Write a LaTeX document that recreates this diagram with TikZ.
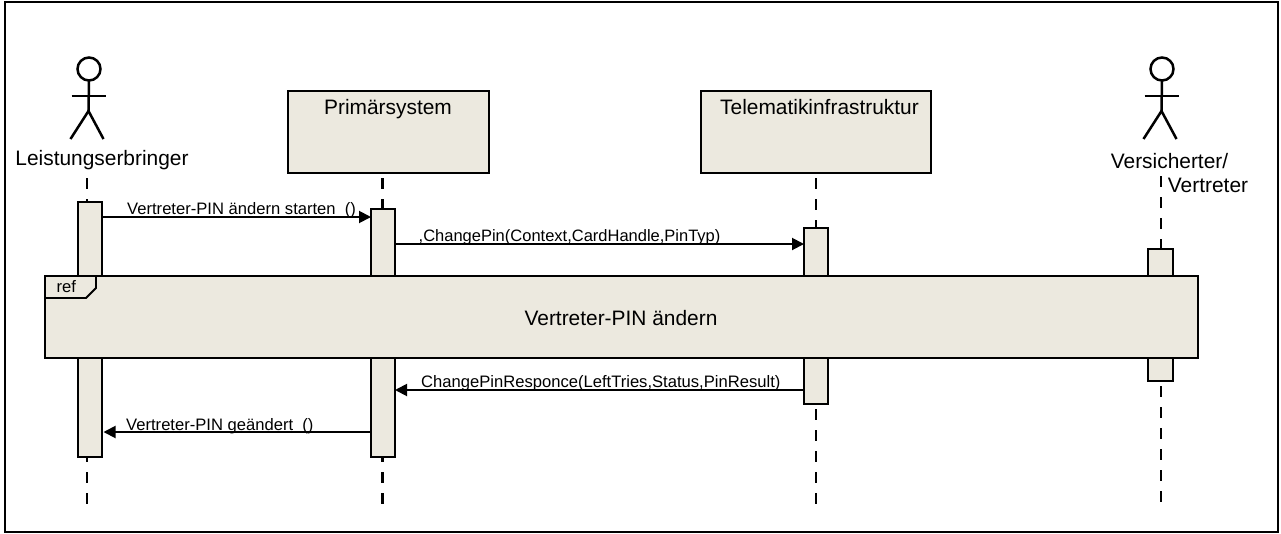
\documentclass[tikz,border=0pt]{standalone}
\usepackage{fontspec}
\setmainfont{Liberation Sans}
\usetikzlibrary{arrows.meta,calc}
\definecolor{boxfill}{RGB}{236,233,223}
\tikzset{
  x=1pt,y=-1pt,
  outline/.style={draw=black,line width=1.9pt},
  boxstyle/.style={outline,fill=boxfill,inner sep=0pt,outer sep=0pt,anchor=north west},
  lifeline/.style={draw=black,line width=2.7pt,dash pattern=on 11pt off 10pt},
  msg/.style={draw=black,line width=1.9pt,-{Triangle[length=12pt,width=12pt]}},
  msgtext/.style={font=\fontsize{16.6}{19}\selectfont,inner sep=0pt,anchor=base west},
  titletext/.style={font=\fontsize{20.9}{24}\selectfont,inner sep=0pt,anchor=base},
  actorline/.style={draw=black,line width=2.5pt},
}
\newcommand{\boxat}[6]{\node[boxstyle,minimum width=#4pt,minimum height=#5pt] (#1) at (#2,#3) {#6};}
\newcommand{\actorfig}[2]{%
  \node[draw=black,line width=2.5pt,circle,minimum size=23pt,inner sep=0pt,outer sep=0pt] (#1head) at (#2+0.5,69) {};
  \coordinate (#1hip) at (#2,111);
  \coordinate (#1larm) at (#2-17,96);
  \coordinate (#1rarm) at (#2+17,96);
  \coordinate (#1lleg) at (#2-18,139);
  \coordinate (#1rleg) at (#2+15,139);
  \draw[actorline] (#1head.south) -- (#1hip);
  \draw[actorline] (#1larm) -- (#1rarm);
  \draw[actorline] (#1lleg) -- (#1hip) -- (#1rleg);
}
\begin{document}
\begin{tikzpicture}
\useasboundingbox (0,0) rectangle (1281,533);
\fill[white] (0,0) rectangle (1281,533);
\node[draw=black,line width=2pt,minimum width=1273pt,minimum height=530pt,inner sep=0pt,anchor=north west] (frame) at (4,1) {};

% lifeline ends
\coordinate (ltop) at (87,178);  \coordinate (lbot) at (87,505);
\coordinate (ptop) at (382.5,178); \coordinate (pbot) at (382.5,505);
\coordinate (ttop) at (816,178); \coordinate (tbot) at (816,505);
\coordinate (vtop) at (1161,176); \coordinate (vbot) at (1161,502);
\draw[lifeline] (ltop) -- (lbot);
\draw[lifeline] (ptop) -- (pbot);
\draw[lifeline] (ttop) -- (tbot);
\draw[lifeline] (vtop) -- (vbot);

% actors
\actorfig{la}{88.5}
\actorfig{va}{1161.5}
\node[titletext] (lname) at (102,165.5) {Leistungserbringer};
\node[titletext] (vname1) at (1169.5,168) {Versicherter/};
\node[titletext] (vname2) at (1208,192.5) {Vertreter};

% lifeline heads
\boxat{prim}{288}{91}{201}{82}{}
\boxat{tele}{701}{91}{230}{82}{}
\node[titletext] (primt) at (388,114.5) {Primärsystem};
\node[titletext] (telet) at (819.5,114.5) {Telematikinfrastruktur};

% activations
\boxat{la1}{78}{202}{24}{255}{}
\boxat{pa1}{371}{209}{24}{248}{}
\boxat{ta1}{804}{228}{24}{176}{}
\boxat{va1}{1148}{249}{25}{132}{}

% ref
\boxat{ref}{45}{276}{1153}{82}{}
\coordinate (c1) at (96,276);
\coordinate (c2) at (96,288);
\coordinate (c3) at (86,298);
\coordinate (c4) at (45,298);
\draw[outline] (c1) -- (c2) -- (c3) -- (c4);
\node[msgtext] (reft) at (56.5,292.5) {ref};
\node[titletext] (refm) at (621,325) {Vertreter-PIN ändern};

% messages
\draw[msg] (la1.east |- 0,217) -- (pa1.west |- 0,217);
\draw[msg] (pa1.east |- 0,244) -- (ta1.west |- 0,244);
\draw[msg] (ta1.west |- 0,390) -- (pa1.east |- 0,390);
\draw[msg,shorten >=1.5pt] (pa1.west |- 0,432) -- (la1.east |- 0,432);
\node[msgtext] (m1) at (127,214) {Vertreter-PIN ändern starten\ \ ()};
\node[font=\fontsize{16.5}{19}\selectfont,inner sep=0pt,anchor=base west] (m2) at (418.5,241) {,ChangePin(Context,CardHandle,PinTyp)};
\node[msgtext] (m3) at (421,387) {ChangePinResponce(LeftTries,Status,PinResult)};
\node[msgtext] (m4) at (126,430) {Vertreter-PIN geändert\ \ ()};
\end{tikzpicture}
\end{document}
